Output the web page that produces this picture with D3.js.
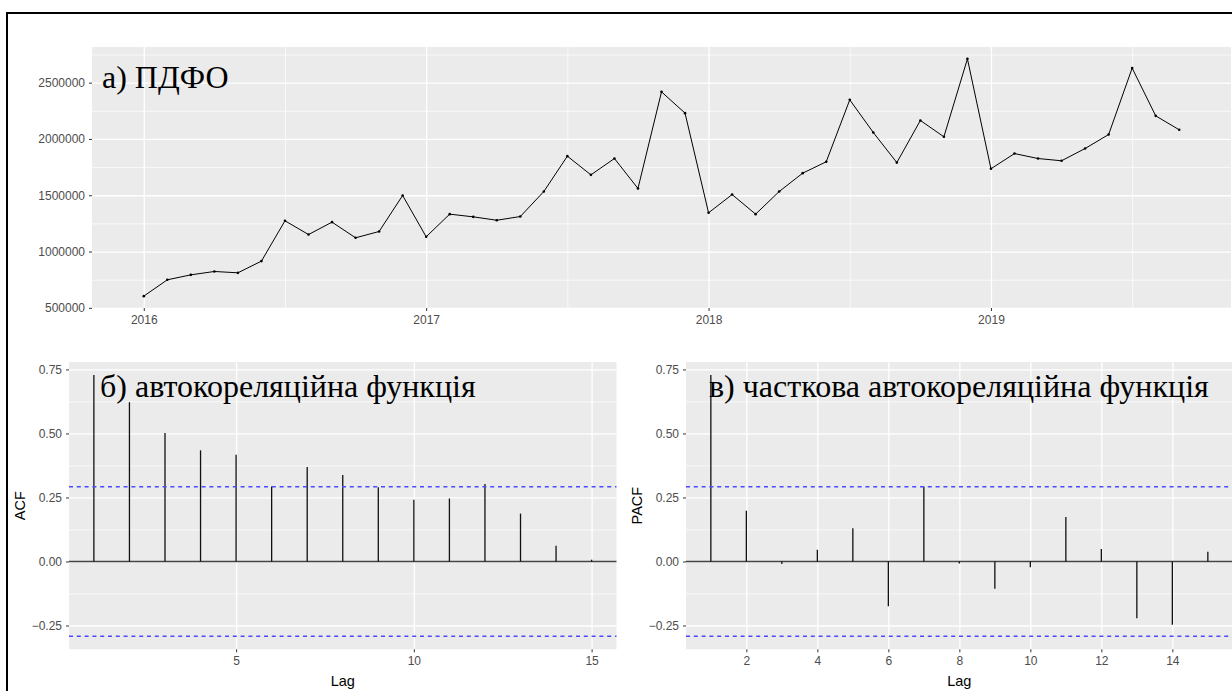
<html>

<head>
  <script src="https://unpkg.com/d3@7.8.5/dist/d3.min.js"></script>
  <style>
    body { margin: 0; background: #fff; }
    .tick text { fill: #4d4d4d; font-family: 'Liberation Sans', Arial, sans-serif; font-size: 12px; }
    .axis .tick line { stroke: #333; }
    .domain { display: none; }
    .grid .tick line { stroke: #fff; }
    .title { font-family: 'Liberation Serif', 'Times New Roman', serif; font-size: 32px; fill: #000; }
    .axis-title { font-family: 'Liberation Sans', Arial, sans-serif; font-size: 14.5px; fill: #000; }
  </style>
</head>
<body>
  <svg id="container" width="1232" height="691"></svg>
</body>

<script>
    // monthly PDFO series, Jan 2016 .. Sep 2019
    const startYear = 2016;
    const pdfo = [
      604000, 749000, 793000, 823000, 811000, 915000, 1273000, 1151000, 1261000, 1122000, 1178000, 1498000,
      1131000, 1332000, 1308000, 1278000, 1311000, 1533000, 1847000, 1681000, 1826000, 1560000, 2418000, 2229000,
      1344000, 1506000, 1332000, 1533000, 1696000, 1797000, 2347000, 2057000, 1790000, 2164000, 2019000, 2711000,
      1735000, 1870000, 1826000, 1806000, 1915000, 2039000, 2629000, 2205000, 2081000
    ];
    const yearTicks = [2016, 2017, 2018, 2019];
    const yearMinor = [2016.5, 2017.5, 2018.5, 2019.5];
    const pdfoTicks = [500000, 1000000, 1500000, 2000000, 2500000];
    const pdfoMinor = [750000, 1250000, 1750000, 2250000, 2750000];

    const lags = [1, 2, 3, 4, 5, 6, 7, 8, 9, 10, 11, 12, 13, 14, 15];
    const acf = [0.728, 0.622, 0.502, 0.434, 0.417, 0.293, 0.369, 0.338, 0.290, 0.241, 0.246, 0.303, 0.187, 0.061, 0.007];
    const pacf = [0.728, 0.198, -0.010, 0.046, 0.130, -0.175, 0.293, -0.008, -0.107, -0.023, 0.174, 0.049, -0.222, -0.247, 0.038];
    const ciLevel = 0.292;
    const corrTicks = [-0.25, 0, 0.25, 0.5, 0.75];
    const corrMinor = [-0.125, 0.125, 0.375, 0.625];
    const acfLagTicks = [5, 10, 15];
    const pacfLagTicks = [2, 4, 6, 8, 10, 12, 14];

    const svgContainer = d3.select('#container');

    svgContainer.append('rect')
      .attr('x', 7).attr('y', 13)
      .attr('width', 1300).attr('height', 760)
      .attr('fill', 'none').attr('stroke', '#000').attr('stroke-width', 2);

    // ggplot style 5% expansion
    const expand = ([a, b]) => [a - 0.05 * (b - a), b + 0.05 * (b - a)];

    function drawPanel(x, y, o) {
      const [xl, xr] = x.range();
      const [yb, yt] = y.range();
      const g = svgContainer.append('g');

      g.append('rect')
        .attr('x', xl).attr('y', yt)
        .attr('width', xr - xl).attr('height', yb - yt)
        .attr('fill', '#ebebeb');

      // minor grid
      g.append('g').attr('class', 'grid')
        .attr('transform', `translate(${xl}, 0)`)
        .call(d3.axisLeft(y).tickValues(o.yMinor).tickSize(-(xr - xl)).tickFormat(''))
        .selectAll('line').attr('stroke-width', 0.7);
      if (o.xMinor) {
        g.append('g').attr('class', 'grid')
          .attr('transform', `translate(0, ${yb})`)
          .call(d3.axisBottom(x).tickValues(o.xMinor).tickSize(-(yb - yt)).tickFormat(''))
          .selectAll('line').attr('stroke-width', 0.7);
      }
      // major grid
      g.append('g').attr('class', 'grid')
        .attr('transform', `translate(${xl}, 0)`)
        .call(d3.axisLeft(y).tickValues(o.yTicks).tickSize(-(xr - xl)).tickFormat(''))
        .selectAll('line').attr('stroke-width', 1.3);
      g.append('g').attr('class', 'grid')
        .attr('transform', `translate(0, ${yb})`)
        .call(d3.axisBottom(x).tickValues(o.xTicks).tickSize(-(yb - yt)).tickFormat(''))
        .selectAll('line').attr('stroke-width', 1.3);

      // axes
      g.append('g').attr('class', 'axis')
        .attr('transform', `translate(${xl}, 0)`)
        .call(d3.axisLeft(y).tickValues(o.yTicks).tickSize(3).tickPadding(4).tickFormat(o.yFormat));
      g.append('g').attr('class', 'axis')
        .attr('transform', `translate(0, ${yb})`)
        .call(d3.axisBottom(x).tickValues(o.xTicks).tickSize(3).tickPadding(4).tickFormat(o.xFormat));
      return g;
    }

    // ---- a) PDFO series
    const times = pdfo.map((v, i) => startYear + i / 12);
    const xTop = d3.scaleLinear().domain(expand(d3.extent(times))).range([92, 1231]);
    const yTop = d3.scaleLinear().domain(expand(d3.extent(pdfo))).range([308, 47]);

    const seriesPanel = drawPanel(xTop, yTop, {
      xTicks: yearTicks, xMinor: yearMinor, yTicks: pdfoTicks, yMinor: pdfoMinor,
      xFormat: d3.format('d'), yFormat: d3.format('d')
    });

    seriesPanel.append('path')
      .datum(pdfo)
      .attr('fill', 'none').attr('stroke', '#000').attr('stroke-width', 1)
      .attr('d', d3.line().x((d, i) => xTop(times[i])).y(d => yTop(d)));
    seriesPanel.selectAll('circle').data(pdfo).enter().append('circle')
      .attr('cx', (d, i) => xTop(times[i])).attr('cy', d => yTop(d))
      .attr('r', 1.3).attr('fill', '#000');

    seriesPanel.append('text').attr('class', 'title')
      .attr('x', 102).attr('y', 88).text('а) ПДФО');

    // ---- correlogram panels
    function correlogram(values, xRange, lagTicks, label, title, titleX) {
      const x = d3.scaleLinear().domain(expand(d3.extent(lags))).range(xRange);
      const y = d3.scaleLinear()
        .domain(expand([Math.min(-ciLevel, d3.min(values)), Math.max(ciLevel, d3.max(values))]))
        .range([649.3, 362]);
      const g = drawPanel(x, y, {
        xTicks: lagTicks, xMinor: null, yTicks: corrTicks, yMinor: corrMinor,
        xFormat: d3.format('d'), yFormat: d3.format('.2f')
      });
      const [xl, xr] = x.range();

      g.append('line')
        .attr('x1', xl).attr('x2', xr).attr('y1', y(0)).attr('y2', y(0))
        .attr('stroke', '#444').attr('stroke-width', 1.5);

      g.selectAll('.bar').data(values).enter().append('line')
        .attr('class', 'bar')
        .attr('x1', (d, i) => x(lags[i])).attr('x2', (d, i) => x(lags[i]))
        .attr('y1', y(0)).attr('y2', d => y(d))
        .attr('stroke', '#111').attr('stroke-width', 1.3);

      g.selectAll('.ci').data([ciLevel, -ciLevel]).enter().append('line')
        .attr('class', 'ci')
        .attr('x1', xl).attr('x2', xr).attr('y1', d => y(d)).attr('y2', d => y(d))
        .attr('stroke', '#4a4aff').attr('stroke-width', 1.5)
        .attr('stroke-dasharray', '4,3.8');

      g.append('text').attr('class', 'axis-title')
        .attr('x', (xl + xr) / 2).attr('y', 686)
        .attr('text-anchor', 'middle').text('Lag');
      g.append('text').attr('class', 'axis-title')
        .attr('transform', `translate(${xl - 44}, ${(362 + 649.3) / 2}) rotate(-90)`)
        .attr('text-anchor', 'middle').text(label);

      g.append('text').attr('class', 'title')
        .attr('x', titleX).attr('y', 397).text(title);
    }

    correlogram(acf, [69, 616.5], acfLagTicks, 'ACF', 'б) автокореляційна функція', 100);
    correlogram(pacf, [686, 1232.7], pacfLagTicks, 'PACF', 'в) часткова автокореляційна функція', 709);
</script>

</html>
